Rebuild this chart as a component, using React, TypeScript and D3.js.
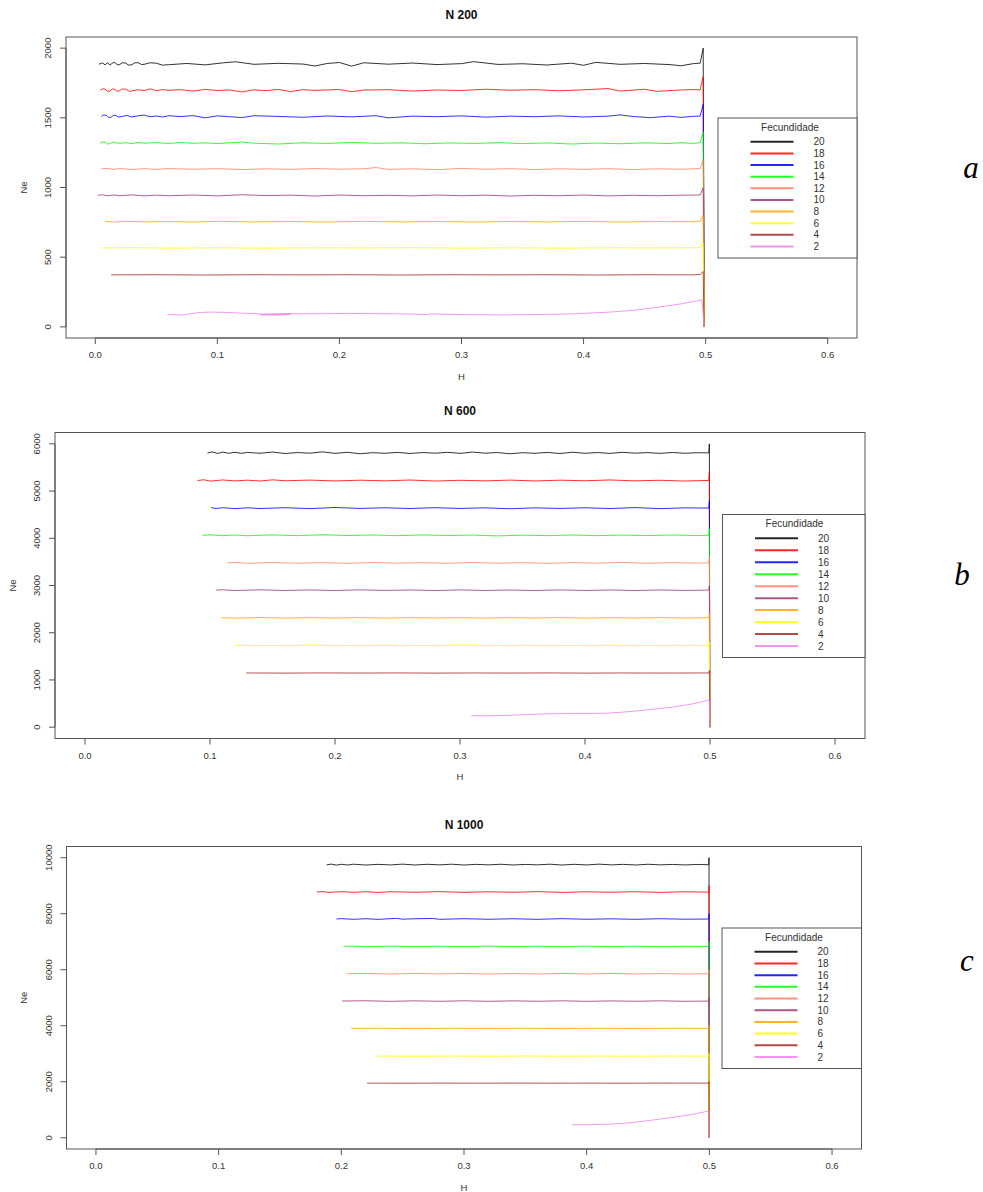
import React from 'react';
import * as d3 from 'd3';

// Fecundity classes, legend order (drawn in this order too)
const FECUNDITY = ['20', '18', '16', '14', '12', '10', '8', '6', '4', '2'];
const COLORS = ['#000000', '#FF0000', '#0000FF', '#00FF00', '#FF8060', '#9B3A78', '#FFA500', '#FFFF00', '#A52A2A', '#EE82EE'];

const X_TICKS = [0, 0.1, 0.2, 0.3, 0.4, 0.5, 0.6];
const Y_TICKS_200 = [0, 500, 1000, 1500, 2000];
const Y_TICKS_600 = [0, 1000, 2000, 3000, 4000, 5000, 6000];
const Y_TICKS_1000 = [0, 2000, 4000, 6000, 8000, 10000];

type Pt = [number, number];

// ---- N 200 : [H, Ne]
const A20: Pt[] = [[0.003,1885],[0.006,1894],[0.008,1880],[0.01,1896],[0.012,1878],[0.014,1893],[0.016,1897],[0.018,1881],[0.02,1882],[0.022,1895],[0.025,1893],[0.027,1879],[0.03,1880],[0.032,1894],[0.035,1896],[0.038,1882],[0.04,1884],[0.045,1895],[0.05,1892],[0.055,1878],[0.06,1881],[0.075,1890],[0.09,1880],[0.105,1895],[0.115,1902],[0.13,1884],[0.15,1891],[0.17,1886],[0.18,1872],[0.19,1890],[0.2,1897],[0.21,1871],[0.22,1895],[0.24,1885],[0.26,1893],[0.28,1882],[0.3,1889],[0.31,1903],[0.33,1883],[0.35,1888],[0.37,1879],[0.39,1892],[0.4,1877],[0.41,1898],[0.43,1884],[0.45,1890],[0.47,1882],[0.48,1874],[0.49,1889],[0.4955,1892],[0.498,2000],[0.4988,0]];
const A18: Pt[] = [[0.004,1698],[0.006,1708],[0.008,1706],[0.01,1690],[0.012,1692],[0.014,1707],[0.016,1704],[0.018,1691],[0.02,1695],[0.022,1707],[0.025,1705],[0.028,1690],[0.03,1693],[0.035,1702],[0.04,1696],[0.045,1708],[0.05,1694],[0.055,1703],[0.06,1697],[0.07,1702],[0.08,1692],[0.09,1704],[0.1,1696],[0.11,1700],[0.12,1686],[0.13,1701],[0.14,1695],[0.15,1704],[0.16,1688],[0.17,1702],[0.18,1697],[0.2,1703],[0.21,1688],[0.22,1699],[0.24,1702],[0.26,1692],[0.28,1700],[0.3,1696],[0.32,1705],[0.34,1698],[0.36,1702],[0.38,1694],[0.4,1701],[0.42,1710],[0.43,1692],[0.45,1705],[0.46,1690],[0.48,1700],[0.49,1703],[0.4955,1700],[0.498,1795],[0.4988,0]];
const A16: Pt[] = [[0.005,1510],[0.007,1520],[0.009,1518],[0.011,1503],[0.013,1504],[0.015,1519],[0.017,1516],[0.019,1505],[0.021,1508],[0.026,1517],[0.03,1506],[0.035,1514],[0.04,1520],[0.045,1508],[0.05,1513],[0.055,1506],[0.06,1515],[0.07,1509],[0.08,1516],[0.09,1500],[0.1,1514],[0.11,1508],[0.12,1502],[0.13,1515],[0.15,1510],[0.17,1504],[0.19,1513],[0.21,1507],[0.23,1515],[0.24,1500],[0.26,1512],[0.28,1508],[0.3,1514],[0.32,1505],[0.34,1512],[0.36,1508],[0.38,1514],[0.4,1506],[0.42,1512],[0.43,1521],[0.44,1510],[0.455,1501],[0.47,1512],[0.48,1503],[0.49,1511],[0.4955,1512],[0.498,1597],[0.4988,0]];
const A14: Pt[] = [[0.004,1318],[0.006,1326],[0.008,1325],[0.01,1313],[0.012,1314],[0.014,1325],[0.016,1323],[0.02,1316],[0.025,1322],[0.03,1315],[0.035,1324],[0.04,1318],[0.05,1322],[0.06,1316],[0.07,1323],[0.08,1317],[0.09,1321],[0.1,1315],[0.12,1326],[0.13,1318],[0.15,1312],[0.17,1321],[0.19,1316],[0.21,1323],[0.23,1317],[0.25,1321],[0.27,1314],[0.29,1320],[0.31,1316],[0.33,1322],[0.35,1315],[0.37,1320],[0.39,1312],[0.41,1319],[0.43,1314],[0.45,1321],[0.47,1315],[0.48,1322],[0.49,1316],[0.4955,1322],[0.498,1397],[0.4988,0]];
const A12: Pt[] = [[0.005,1133],[0.01,1138],[0.015,1130],[0.02,1136],[0.03,1129],[0.04,1135],[0.05,1130],[0.06,1136],[0.08,1131],[0.1,1135],[0.12,1129],[0.14,1134],[0.16,1130],[0.18,1136],[0.2,1131],[0.22,1135],[0.23,1143],[0.24,1130],[0.26,1134],[0.28,1128],[0.3,1137],[0.32,1131],[0.34,1135],[0.36,1129],[0.38,1134],[0.4,1130],[0.42,1135],[0.44,1129],[0.46,1134],[0.48,1131],[0.4955,1136],[0.498,1195],[0.4988,0]];
const A10: Pt[] = [[0.002,944],[0.006,948],[0.01,940],[0.015,946],[0.02,941],[0.03,947],[0.04,940],[0.05,945],[0.06,941],[0.08,946],[0.1,940],[0.12,948],[0.14,942],[0.16,945],[0.18,939],[0.2,946],[0.22,941],[0.24,944],[0.26,940],[0.28,946],[0.3,941],[0.32,945],[0.34,939],[0.36,944],[0.38,941],[0.4,946],[0.42,940],[0.44,944],[0.46,941],[0.48,945],[0.4955,946],[0.498,997],[0.4988,0]];
const A8: Pt[] = [[0.008,756],[0.015,752],[0.025,757],[0.04,753],[0.06,756],[0.08,752],[0.1,757],[0.13,753],[0.16,756],[0.19,752],[0.22,757],[0.25,753],[0.28,756],[0.31,752],[0.34,756],[0.37,753],[0.4,757],[0.43,752],[0.46,756],[0.49,754],[0.4955,758],[0.498,798],[0.4988,0]];
const A6: Pt[] = [[0.006,566],[0.03,568],[0.06,565],[0.1,567],[0.14,565],[0.18,567],[0.22,566],[0.26,568],[0.3,565],[0.34,567],[0.38,565],[0.42,567],[0.46,566],[0.4955,568],[0.498,600],[0.4988,0]];
const A4: Pt[] = [[0.013,373],[0.05,374],[0.09,372],[0.13,374],[0.17,373],[0.21,374],[0.25,372],[0.29,374],[0.33,373],[0.37,374],[0.41,372],[0.45,374],[0.49,373],[0.4955,376],[0.498,397],[0.4988,0]];
const A2: Pt[] = [[0.059,86],[0.065,88],[0.07,84],[0.075,90],[0.08,96],[0.085,103],[0.095,106],[0.105,104],[0.12,98],[0.13,95],[0.145,88],[0.16,90],[0.15,84],[0.135,86],[0.14,92],[0.155,96],[0.17,94],[0.19,95],[0.21,96],[0.24,94],[0.26,92],[0.27,88],[0.275,93],[0.3,88],[0.33,86],[0.36,88],[0.39,93],[0.42,105],[0.44,118],[0.46,140],[0.48,165],[0.497,194],[0.4988,0]];

// ---- N 600
const B20: Pt[] = [[0.098,5805],[0.102,5830],[0.106,5795],[0.11,5825],[0.115,5800],[0.12,5822],[0.125,5798],[0.13,5818],[0.14,5800],[0.15,5826],[0.16,5795],[0.17,5815],[0.18,5802],[0.19,5830],[0.2,5798],[0.21,5820],[0.22,5790],[0.23,5812],[0.24,5800],[0.25,5818],[0.26,5796],[0.27,5815],[0.28,5802],[0.29,5820],[0.3,5798],[0.31,5825],[0.32,5802],[0.33,5815],[0.34,5790],[0.35,5812],[0.36,5800],[0.37,5818],[0.38,5795],[0.39,5822],[0.4,5800],[0.41,5815],[0.42,5798],[0.43,5820],[0.44,5802],[0.45,5814],[0.46,5798],[0.47,5816],[0.48,5800],[0.49,5812],[0.499,5808],[0.4995,6000],[0.4998,0]];
const B18: Pt[] = [[0.09,5222],[0.095,5240],[0.1,5210],[0.11,5235],[0.12,5215],[0.13,5230],[0.14,5212],[0.15,5238],[0.16,5218],[0.18,5232],[0.2,5214],[0.22,5230],[0.24,5216],[0.26,5234],[0.28,5212],[0.3,5228],[0.32,5215],[0.34,5232],[0.36,5214],[0.38,5230],[0.4,5218],[0.42,5235],[0.44,5216],[0.46,5228],[0.48,5212],[0.499,5225],[0.4995,5400],[0.4998,0]];
const B16: Pt[] = [[0.101,4650],[0.105,4630],[0.11,4648],[0.12,4628],[0.13,4645],[0.14,4630],[0.16,4648],[0.18,4628],[0.2,4652],[0.22,4632],[0.24,4646],[0.26,4630],[0.28,4648],[0.3,4632],[0.32,4645],[0.34,4625],[0.36,4644],[0.38,4632],[0.4,4646],[0.42,4630],[0.44,4650],[0.46,4628],[0.48,4644],[0.499,4640],[0.4995,4800],[0.4998,0]];
const B14: Pt[] = [[0.094,4062],[0.1,4075],[0.11,4055],[0.12,4070],[0.13,4054],[0.15,4072],[0.17,4056],[0.19,4075],[0.21,4058],[0.23,4070],[0.25,4055],[0.27,4072],[0.29,4058],[0.31,4068],[0.33,4050],[0.35,4066],[0.37,4056],[0.39,4070],[0.41,4055],[0.43,4068],[0.45,4057],[0.47,4070],[0.49,4058],[0.499,4064],[0.4995,4200],[0.4998,0]];
const B12: Pt[] = [[0.114,3478],[0.12,3488],[0.13,3470],[0.15,3486],[0.17,3472],[0.19,3484],[0.21,3470],[0.23,3486],[0.25,3473],[0.27,3484],[0.29,3471],[0.31,3487],[0.33,3472],[0.35,3484],[0.37,3470],[0.39,3485],[0.41,3473],[0.43,3488],[0.45,3471],[0.47,3484],[0.49,3474],[0.499,3480],[0.4995,3600],[0.4998,0]];
const B10: Pt[] = [[0.105,2902],[0.11,2910],[0.12,2894],[0.14,2908],[0.16,2895],[0.18,2906],[0.2,2894],[0.22,2908],[0.24,2896],[0.26,2905],[0.28,2893],[0.3,2907],[0.32,2895],[0.34,2904],[0.36,2894],[0.38,2906],[0.4,2895],[0.42,2905],[0.44,2893],[0.46,2906],[0.48,2896],[0.499,2902],[0.4995,3000],[0.4998,0]];
const B8: Pt[] = [[0.109,2318],[0.12,2310],[0.14,2322],[0.16,2311],[0.18,2320],[0.2,2312],[0.22,2321],[0.24,2310],[0.26,2320],[0.28,2313],[0.3,2319],[0.32,2311],[0.34,2320],[0.36,2312],[0.38,2321],[0.4,2310],[0.42,2319],[0.44,2312],[0.46,2320],[0.48,2313],[0.499,2317],[0.4995,2400],[0.4998,0]];
const B6: Pt[] = [[0.12,1735],[0.15,1730],[0.18,1737],[0.21,1731],[0.24,1736],[0.27,1730],[0.3,1737],[0.33,1731],[0.36,1735],[0.39,1730],[0.42,1736],[0.45,1731],[0.48,1735],[0.499,1733],[0.4995,1800],[0.4998,0]];
const B4: Pt[] = [[0.129,1148],[0.16,1145],[0.19,1149],[0.22,1146],[0.25,1149],[0.28,1145],[0.31,1148],[0.34,1146],[0.37,1149],[0.4,1145],[0.43,1148],[0.46,1146],[0.49,1148],[0.499,1147],[0.4995,1200],[0.4998,0]];
const B2: Pt[] = [[0.309,245],[0.32,240],[0.335,246],[0.35,262],[0.37,282],[0.39,290],[0.41,292],[0.42,298],[0.43,318],[0.44,340],[0.455,380],[0.47,425],[0.485,488],[0.495,545],[0.4995,577],[0.4998,0]];

// ---- N 1000
const C20: Pt[] = [[0.188,9745],[0.192,9770],[0.196,9735],[0.2,9765],[0.205,9740],[0.21,9768],[0.22,9738],[0.23,9762],[0.24,9742],[0.25,9770],[0.26,9740],[0.27,9765],[0.28,9745],[0.29,9768],[0.3,9738],[0.31,9762],[0.32,9744],[0.33,9766],[0.34,9740],[0.35,9760],[0.36,9745],[0.37,9768],[0.38,9738],[0.39,9764],[0.4,9742],[0.41,9770],[0.42,9744],[0.43,9762],[0.44,9740],[0.45,9766],[0.46,9745],[0.47,9760],[0.48,9742],[0.49,9758],[0.4995,9750],[0.4997,10000],[0.4999,0]];
const C18: Pt[] = [[0.18,8775],[0.185,8790],[0.19,8762],[0.2,8788],[0.21,8765],[0.22,8785],[0.23,8760],[0.24,8786],[0.26,8766],[0.28,8788],[0.3,8762],[0.32,8784],[0.34,8766],[0.36,8788],[0.38,8762],[0.4,8785],[0.42,8765],[0.44,8786],[0.46,8763],[0.48,8784],[0.4995,8770],[0.4997,9000],[0.4999,0]];
const C16: Pt[] = [[0.196,7812],[0.2,7825],[0.21,7800],[0.22,7822],[0.23,7798],[0.245,7835],[0.25,7805],[0.26,7820],[0.275,7830],[0.28,7800],[0.3,7822],[0.32,7802],[0.34,7820],[0.36,7800],[0.38,7824],[0.4,7802],[0.42,7818],[0.44,7800],[0.46,7822],[0.48,7804],[0.4995,7810],[0.4997,8000],[0.4999,0]];
const C14: Pt[] = [[0.2017,6834],[0.21,6845],[0.22,6822],[0.24,6844],[0.26,6824],[0.28,6842],[0.3,6822],[0.32,6846],[0.34,6824],[0.36,6842],[0.38,6820],[0.4,6844],[0.42,6825],[0.44,6842],[0.46,6822],[0.48,6840],[0.4995,6833],[0.4997,7000],[0.4999,0]];
const C12: Pt[] = [[0.205,5858],[0.22,5868],[0.24,5848],[0.26,5866],[0.28,5850],[0.3,5866],[0.32,5848],[0.34,5865],[0.36,5850],[0.38,5867],[0.4,5849],[0.42,5866],[0.44,5850],[0.46,5864],[0.48,5849],[0.4995,5857],[0.4997,6000],[0.4999,0]];
const C10: Pt[] = [[0.2006,4882],[0.22,4892],[0.24,4872],[0.26,4890],[0.28,4873],[0.3,4891],[0.32,4872],[0.34,4889],[0.36,4874],[0.38,4890],[0.4,4872],[0.42,4888],[0.44,4874],[0.46,4890],[0.48,4873],[0.4995,4881],[0.4997,5000],[0.4999,0]];
const C8: Pt[] = [[0.208,3906],[0.23,3912],[0.26,3898],[0.29,3911],[0.32,3899],[0.35,3912],[0.38,3898],[0.41,3910],[0.44,3900],[0.47,3911],[0.4995,3905],[0.4997,4000],[0.4999,0]];
const C6: Pt[] = [[0.229,2918],[0.26,2913],[0.29,2920],[0.32,2914],[0.35,2920],[0.38,2915],[0.41,2919],[0.44,2914],[0.47,2920],[0.4995,2917],[0.4997,3000],[0.4999,0]];
const C4: Pt[] = [[0.221,1953],[0.25,1949],[0.28,1954],[0.31,1950],[0.34,1954],[0.37,1950],[0.4,1953],[0.43,1949],[0.46,1954],[0.4995,1952],[0.4997,2000],[0.4999,0]];
const C2: Pt[] = [[0.388,462],[0.4,468],[0.41,478],[0.42,492],[0.43,515],[0.443,575],[0.455,640],[0.465,700],[0.477,770],[0.487,845],[0.495,915],[0.4997,964],[0.4999,0]];

const SERIES_200 = [A20, A18, A16, A14, A12, A10, A8, A6, A4, A2];
const SERIES_600 = [B20, B18, B16, B14, B12, B10, B8, B6, B4, B2];
const SERIES_1000 = [C20, C18, C16, C14, C12, C10, C8, C6, C4, C2];

const FONT = '"Liberation Sans", Arial, Helvetica, sans-serif';
const AXIS_COL = '#555';
const TEXT_COL = '#333';

type Box = { l: number; r: number; t: number; b: number };

const Panel = ({ title, letter, letterPos, box, yTicks, series, legend }: {
  title: string; letter: string; letterPos: [number, number]; box: Box;
  yTicks: number[]; series: Pt[][]; legend: Box;
}) => {
  const yMax = yTicks[yTicks.length - 1];
  const x = d3.scaleLinear().domain([-0.024, 0.624]).range([box.l, box.r]);
  const y = d3.scaleLinear().domain([-0.04 * yMax, 1.04 * yMax]).range([box.b, box.t]);
  const line = d3.line<Pt>().x(d => x(d[0])).y(d => y(d[1]));
  const cx = (box.l + box.r) / 2;
  const cy = (box.t + box.b) / 2;
  const lh = legend.b - legend.t;
  const rowStep = (lh - 11.5 - 23.8) / (FECUNDITY.length - 1);

  return (
    <g fontFamily={FONT}>
      <text x={cx} y={box.t - 22} textAnchor="middle" dominantBaseline="central" fontSize={12} fontWeight="bold" fill="#111">{title}</text>
      {series.map((s, i) => (
        <path key={i} d={line(s) || ''} fill="none" stroke={COLORS[i]} strokeWidth={1} strokeOpacity={0.8} strokeLinejoin="round" />
      ))}
      <rect x={box.l} y={box.t} width={box.r - box.l} height={box.b - box.t} fill="none" stroke={AXIS_COL} strokeWidth={1} />
      {/* x axis */}
      <line x1={x(X_TICKS[0])} x2={x(X_TICKS[X_TICKS.length - 1])} y1={box.b} y2={box.b} stroke={AXIS_COL} />
      {X_TICKS.map(t => (
        <g key={t}>
          <line x1={x(t)} x2={x(t)} y1={box.b} y2={box.b + 6} stroke={AXIS_COL} />
          <text x={x(t)} y={box.b + 16.5} textAnchor="middle" dominantBaseline="central" fontSize={9.5} fill={TEXT_COL}>{d3.format('.1f')(t)}</text>
        </g>
      ))}
      <text x={cx} y={box.b + 38} textAnchor="middle" dominantBaseline="central" fontSize={9.5} fill={TEXT_COL}>H</text>
      {/* y axis */}
      <line x1={box.l} x2={box.l} y1={y(yTicks[0])} y2={y(yMax)} stroke={AXIS_COL} />
      {yTicks.map(t => (
        <g key={t}>
          <line x1={box.l - 6} x2={box.l} y1={y(t)} y2={y(t)} stroke={AXIS_COL} />
          <text transform={`translate(${box.l - 18.5},${y(t)}) rotate(-90)`} textAnchor="middle" dominantBaseline="central" fontSize={9.5} fill={TEXT_COL}>{t}</text>
        </g>
      ))}
      <text transform={`translate(${box.l - 43},${cy}) rotate(-90)`} textAnchor="middle" dominantBaseline="central" fontSize={9.5} fill={TEXT_COL}>Ne</text>
      {/* legend */}
      <rect x={legend.l} y={legend.t} width={legend.r - legend.l} height={lh} fill="#fff" stroke={AXIS_COL} strokeWidth={1} />
      <text x={legend.l + 72} y={legend.t + 9} textAnchor="middle" dominantBaseline="central" fontSize={10} fill={TEXT_COL}>Fecundidade</text>
      {FECUNDITY.map((f, i) => {
        const ry = legend.t + 23.8 + i * rowStep;
        return (
          <g key={f}>
            <line x1={legend.l + 32.5} x2={legend.l + 75.5} y1={ry} y2={ry} stroke={COLORS[i]} strokeWidth={2} strokeOpacity={0.85} />
            <text x={legend.l + 95.5} y={ry} dominantBaseline="central" fontSize={10} fill={TEXT_COL}>{f}</text>
          </g>
        );
      })}
      <text x={letterPos[0]} y={letterPos[1]} textAnchor="middle" fontSize={31} fontStyle="italic" fontFamily='"Liberation Serif", "Times New Roman", serif' fill="#000">{letter}</text>
    </g>
  );
};

const App = () => (
  <svg width={983} height={1192} style={{ position: 'absolute', left: 0, top: 0, background: '#fff' }}>
    <rect width={983} height={1192} fill="#fff" />
    <Panel title="N 200" letter="a" letterPos={[971, 178]} box={{ l: 66, r: 857, t: 37, b: 338 }}
      yTicks={Y_TICKS_200} series={SERIES_200} legend={{ l: 718, r: 857, t: 118, b: 258 }} />
    <Panel title="N 600" letter="b" letterPos={[962, 585]} box={{ l: 55, r: 865, t: 432.5, b: 738.5 }}
      yTicks={Y_TICKS_600} series={SERIES_600} legend={{ l: 722.5, r: 865, t: 514.5, b: 657.5 }} />
    <Panel title="N 1000" letter="c" letterPos={[967, 971]} box={{ l: 66.5, r: 861.5, t: 846.5, b: 1149 }}
      yTicks={Y_TICKS_1000} series={SERIES_1000} legend={{ l: 722, r: 861.5, t: 928, b: 1068.5 }} />
  </svg>
);

export default App;
